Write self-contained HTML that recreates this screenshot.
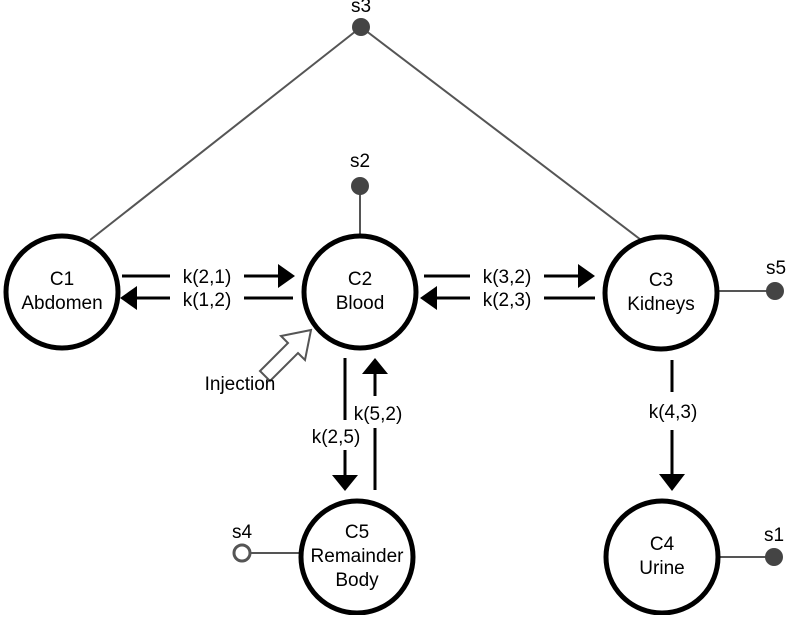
<!DOCTYPE html>
<html><head><style>body{margin:0;background:#fff}</style></head><body>
<svg width="788" height="615" viewBox="0 0 788 615" xmlns="http://www.w3.org/2000/svg" font-family="Liberation Sans, Arial, sans-serif" font-size="19">
<rect width="788" height="615" fill="#fff"/>
<g stroke="#555" stroke-width="2" fill="none">
<line x1="361" y1="27" x2="90" y2="240"/>
<line x1="361" y1="27" x2="645" y2="243"/>
<line x1="360" y1="186" x2="360" y2="236"/>
<line x1="717" y1="291" x2="775" y2="291"/>
<line x1="718" y1="557" x2="774" y2="557"/>
<line x1="250" y1="553" x2="301" y2="553"/>
</g>
<g fill="#444">
<circle cx="361" cy="27" r="9"/>
<circle cx="360" cy="186" r="9"/>
<circle cx="775" cy="291" r="9"/>
<circle cx="774" cy="557" r="9"/>
</g>
<circle cx="242" cy="553" r="8" fill="#fff" stroke="#555" stroke-width="3"/>
<g stroke="#000" stroke-width="5" fill="#fff">
<circle cx="62" cy="292" r="56"/>
<circle cx="360" cy="292" r="56"/>
<circle cx="661" cy="293" r="56"/>
<circle cx="357" cy="557" r="56"/>
<circle cx="662" cy="557" r="56"/>
</g>
<g stroke="#000" stroke-width="3" fill="none">
<line x1="122" y1="276" x2="170" y2="276"/><line x1="244" y1="276" x2="282" y2="276"/>
<line x1="132" y1="298" x2="170" y2="298"/><line x1="244" y1="298" x2="293" y2="298"/>
<line x1="424" y1="276" x2="470" y2="276"/><line x1="544" y1="276" x2="582" y2="276"/>
<line x1="434" y1="298" x2="470" y2="298"/><line x1="544" y1="298" x2="595" y2="298"/>
<line x1="345" y1="358" x2="345" y2="420"/><line x1="345" y1="450" x2="345" y2="475"/>
<line x1="375" y1="372" x2="375" y2="396"/><line x1="375" y1="428" x2="375" y2="490"/>
<line x1="672" y1="360" x2="672" y2="392"/><line x1="672" y1="430" x2="672" y2="476"/>
</g>
<g fill="#000">
<polygon points="278,264 295,276 278,288"/>
<polygon points="137,286 120,298 137,310"/>
<polygon points="578,264 595,276 578,288"/>
<polygon points="437,286 420,298 437,310"/>
<polygon points="332,475 358,475 345,491"/>
<polygon points="362,374 388,374 375,358"/>
<polygon points="659,474 685,474 672,491"/>
</g>
<polygon points="311,330 281,336 288,343 260,371 270,381 298,353 305,360" fill="#fff" stroke="#555" stroke-width="2"/>
<g text-anchor="middle" fill="#000">
<text x="62" y="285">C1</text><text x="62" y="309">Abdomen</text>
<text x="360" y="285">C2</text><text x="360" y="309">Blood</text>
<text x="661" y="286">C3</text><text x="661" y="310">Kidneys</text>
<text x="357" y="538">C5</text><text x="357" y="562">Remainder</text><text x="357" y="586">Body</text>
<text x="662" y="550">C4</text><text x="662" y="574">Urine</text>
<text x="207" y="283">k(2,1)</text><text x="207" y="306">k(1,2)</text>
<text x="507" y="283">k(3,2)</text><text x="507" y="306">k(2,3)</text>
<text x="336" y="443">k(2,5)</text><text x="378" y="420">k(5,2)</text>
<text x="673" y="418">k(4,3)</text>
<text x="361" y="12">s3</text><text x="360" y="167">s2</text>
<text x="776" y="274">s5</text><text x="774" y="541">s1</text><text x="242" y="538">s4</text>
<text x="240" y="390">Injection</text>
</g>
</svg>
</body></html>
